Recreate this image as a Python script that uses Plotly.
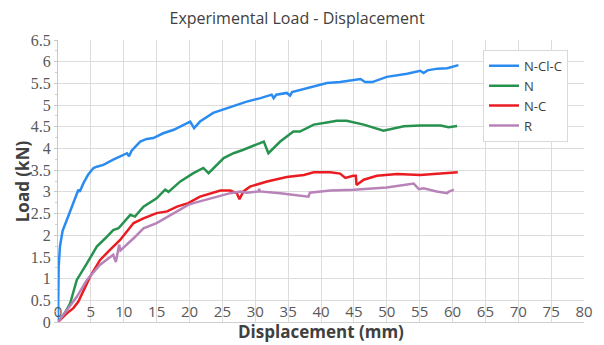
import plotly.graph_objects as go

# ---- Data ----
ncic_x = [0, 0.05, 0.1, 0.3, 0.7, 1.34, 2.0, 2.6, 3.1, 3.3, 3.87, 4.6, 5.4, 5.9, 6.9, 8.4, 9.6, 10.5, 10.8, 11.2,
          12.5, 13.5, 14.5, 16.0, 17.6, 18.6, 20.1, 20.7, 21.6, 23.6, 26.7, 28.7, 30.8, 32.5, 32.8, 33.2,
          34.8, 35.3, 35.6, 36.8, 38.9, 40.9, 42.9, 46.0, 46.7, 47.8, 50.0, 53.1, 55.1, 55.6, 56.2, 57.7, 59.2, 60.9]
ncic_y = [0, 0.6, 1.28, 1.74, 2.1, 2.35, 2.6, 2.82, 3.05, 3.0, 3.2, 3.4, 3.55, 3.58, 3.62, 3.74, 3.83, 3.89, 3.82, 3.95,
          4.16, 4.22, 4.24, 4.35, 4.43, 4.5, 4.62, 4.47, 4.62, 4.82, 4.97, 5.08, 5.16, 5.24, 5.16, 5.24,
          5.28, 5.22, 5.3, 5.35, 5.43, 5.51, 5.53, 5.6, 5.53, 5.53, 5.65, 5.72, 5.79, 5.74, 5.8, 5.84, 5.85, 5.92]

n_x = [0, 1.0, 1.85, 2.86, 4.4, 5.9, 7.2, 8.4, 9.2, 11.0, 11.7, 13.0, 15.0, 16.3, 16.8, 18.6, 20.6, 22.1, 22.9,
       25.2, 26.7, 28.2, 31.3, 32.0, 33.8, 35.8, 36.8, 38.9, 40.9, 42.4, 43.9, 46.5, 49.5, 52.6, 55.1, 58.2, 59.4, 60.7]
n_y = [0, 0.2, 0.43, 0.97, 1.35, 1.74, 1.93, 2.12, 2.16, 2.47, 2.43, 2.66, 2.85, 3.05, 3.0, 3.24, 3.43, 3.55, 3.43,
       3.78, 3.89, 3.97, 4.16, 3.89, 4.16, 4.39, 4.39, 4.55, 4.6, 4.64, 4.64, 4.55, 4.41, 4.51, 4.53, 4.53, 4.49, 4.52]

nc_x = [0, 1.34, 2.34, 3.1, 4.9, 6.4, 7.9, 9.45, 11.5, 13.0, 15.0, 16.6, 18.1, 19.8, 21.6, 24.7, 26.2, 27.2, 27.6,
        28.2, 29.2, 31.8, 34.8, 37.4, 38.9, 41.4, 42.9, 43.7, 44.9, 45.3, 45.4, 46.5, 48.5, 51.6, 55.1, 58.2, 60.8]
nc_y = [0, 0.2, 0.32, 0.47, 1.05, 1.43, 1.66, 1.89, 2.28, 2.39, 2.51, 2.55, 2.66, 2.74, 2.89, 3.03, 3.03, 2.97, 2.83,
        3.01, 3.12, 3.24, 3.34, 3.39, 3.45, 3.45, 3.42, 3.32, 3.37, 3.37, 3.16, 3.28, 3.37, 3.41, 3.39, 3.42, 3.45]

r_x = [0, 1.5, 2.86, 4.4, 6.4, 8.4, 8.8, 9.3, 9.5, 11.5, 13.0, 15.0, 17.6, 19.8, 20.6, 23.1, 26.2, 27.7, 28.7,
       30.5, 30.6, 30.7, 33.8, 38.1, 38.3, 41.4, 45.0, 50.0, 53.1, 54.1, 54.9, 55.6, 57.6, 59.2, 59.4, 60.2]
r_y = [0, 0.3, 0.58, 0.97, 1.32, 1.55, 1.38, 1.78, 1.65, 1.93, 2.16, 2.28, 2.51, 2.7, 2.74, 2.85, 2.97, 3.01, 2.98,
       3.01, 3.07, 3.01, 2.97, 2.89, 2.98, 3.03, 3.05, 3.1, 3.16, 3.19, 3.06, 3.08, 3.01, 2.97, 3.0, 3.05]

series = [
    ("N-Cl-C", ncic_x, ncic_y, "#2a8cf0"),
    ("N", n_x, n_y, "#27924e"),
    ("N-C", nc_x, nc_y, "#ea1c22"),
    ("R", r_x, r_y, "#b783b8"),
]

x_ticks = list(range(0, 85, 5))
y_ticks = [i * 0.5 for i in range(0, 14)]

fig = go.Figure()
for name, xs, ys, col in series:
    fig.add_trace(go.Scatter(x=xs, y=ys, mode="lines", name=name,
                             line=dict(color=col, width=2.5)))

fig.update_layout(
    width=596, height=337,
    margin=dict(l=50, r=20, t=32, b=23),
    paper_bgcolor="white", plot_bgcolor="white",
    showlegend=True,
    legend=dict(x=0.808, y=0.965, xanchor="left", yanchor="top",
                bordercolor="#d9d9d9", borderwidth=1, bgcolor="white",
                font=dict(family="Open Sans", size=13, color="#404040"),
                itemwidth=30),
    title=dict(text="Experimental Load - Displacement", x=0.485, xanchor="center",
               y=0.970, yanchor="middle",
               font=dict(family="Open Sans", size=16, color="#404040")),
    annotations=[
        dict(text="<b>Displacement (mm)</b>", xref="paper", yref="paper",
             x=0.5, y=-0.035, xanchor="center", yanchor="middle", showarrow=False,
             font=dict(family="Open Sans", size=17, color="#404040")),
        dict(text="<b>Load (kN)</b>", xref="paper", yref="paper",
             x=-0.068, y=0.5, xanchor="center", yanchor="middle", showarrow=False,
             textangle=-90,
             font=dict(family="Open Sans", size=17, color="#404040")),
    ],
)

fig.update_xaxes(range=[0, 80], tickvals=x_ticks, ticktext=[str(v) for v in x_ticks],
                 ticklabelposition="outside", ticklabelstandoff=-24, ticks="",
                 automargin=False,
                 showgrid=True, gridcolor="#dcdcdc", gridwidth=1,
                 zeroline=False, showline=True, linecolor="#d0d0d0", mirror=False,
                 tickfont=dict(family="Open Sans", size=15, color="#595959"))
fig.update_yaxes(range=[0, 6.5], tickvals=y_ticks,
                 ticktext=[("%g" % v) for v in y_ticks],
                 automargin=False,
                 showgrid=True, gridcolor="#dcdcdc", gridwidth=1,
                 zeroline=False, showline=True, linecolor="#c8c8c8",
                 ticks="outside", ticklen=3, tickcolor="#c8c8c8",
                 minor=dict(ticks="outside", ticklen=2, tickcolor="#d0d0d0", dtick=0.25),
                 tickfont=dict(family="Liberation Serif", size=16, color="#595959"))

fig.write_html("out.html")
